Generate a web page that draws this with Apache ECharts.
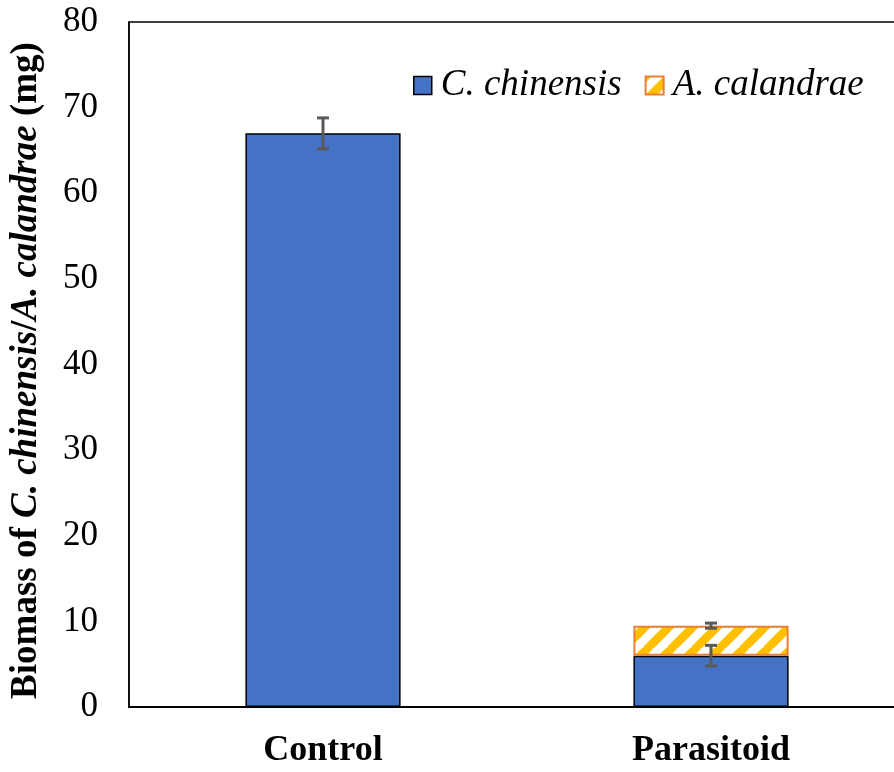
<!DOCTYPE html>
<html>
<head>
<meta charset="utf-8">
<script src="https://cdn.jsdelivr.net/npm/echarts@6/dist/echarts.min.js"></script>
<style>html,body{margin:0;padding:0;background:#fff;overflow:hidden;}#c{width:905px;height:772px;}</style>
</head>
<body>
<div id="c"></div>
<script>
const categories = ['Control', 'Parasitoid'];
const chinensis = [67, 6];
const chinensisErr = [1.8, 1.2];
const calandrae = ['-', 3.5];
const calandraeErr = [null, 0.3];
const yTicks = [0, 10, 20, 30, 40, 50, 60, 70, 80];

const FONT = "'Liberation Serif', 'Times New Roman', serif";

// hatch pattern
const tile = document.createElement('canvas');
tile.width = 24; tile.height = 24;
const tc = tile.getContext('2d');
tc.fillStyle = '#fff'; tc.fillRect(0, 0, 24, 24);
tc.strokeStyle = '#FFC000'; tc.lineWidth = 8.5;
for (const k of [-24, 0, 24]) {
  tc.beginPath(); tc.moveTo(k - 2, 26); tc.lineTo(k + 26, -2); tc.stroke();
}
const hatch = { image: tile, repeat: 'repeat' };

const errData1 = categories.map((c, i) => [i, chinensis[i], chinensisErr[i]]);
const errData2 = categories.map((c, i) => calandraeErr[i] == null ? null :
  [i, chinensis[i] + calandrae[i], calandraeErr[i]]).filter(d => d);

function renderErr(params, api) {
  const i = api.value(0), v = api.value(1), e = api.value(2);
  const hi = api.coord([i, v + e]);
  const lo = api.coord([i, v - e]);
  const x = hi[0], w = 6;
  const style = { stroke: '#595959', lineWidth: 3 };
  return {
    type: 'group',
    children: [
      { type: 'line', shape: { x1: x, y1: hi[1], x2: x, y2: lo[1] }, style },
      { type: 'line', shape: { x1: x - w, y1: hi[1], x2: x + w, y2: hi[1] }, style },
      { type: 'line', shape: { x1: x - w, y1: lo[1], x2: x + w, y2: lo[1] }, style }
    ]
  };
}

const chart = echarts.init(document.getElementById('c'));
chart.setOption({
  animation: false,
  backgroundColor: '#fff',
  grid: { left: 126, top: 22, right: 0, bottom: 65, show: true, borderColor: '#000', borderWidth: 1.5 },
  legend: {
    left: 408, top: 62,
    itemWidth: 18, itemHeight: 18, itemGap: 23,
    icon: 'rect',
    textStyle: { fontFamily: FONT, fontStyle: 'italic', fontSize: 37, color: '#000', padding: [0, 0, 0, 4] },
    data: [
      { name: 'C. chinensis', itemStyle: { color: '#4472C4', borderColor: '#000', borderWidth: 1.5 } },
      { name: 'A. calandrae', itemStyle: { color: hatch, borderColor: '#ED7D31', borderWidth: 2 } }
    ]
  },
  xAxis: {
    type: 'category',
    data: categories,
    axisTick: { show: false },
    axisLine: { lineStyle: { color: '#000', width: 2 } },
    axisLabel: { fontFamily: FONT, fontWeight: 'bold', fontSize: 36, color: '#000', margin: 26 }
  },
  yAxis: {
    type: 'value', min: yTicks[0], max: yTicks[yTicks.length - 1], interval: 10,
    splitLine: { show: false },
    axisTick: { show: false },
    axisLine: { show: true, lineStyle: { color: '#000', width: 1.5 } },
    axisLabel: { fontFamily: FONT, fontSize: 35, color: '#000', margin: 31 },
    name: '{b|Biomass of }{bi|C. chinensis}{b|/}{bi|A. calandrae}{b| (mg)}',
    nameLocation: 'middle', nameRotate: 90, nameGap: 84,
    nameTextStyle: {
      padding: [0, 12, 0, 0],
      rich: {
        b: { fontFamily: FONT, fontWeight: 'bold', fontSize: 37, color: '#000' },
        bi: { fontFamily: FONT, fontWeight: 'bold', fontStyle: 'italic', fontSize: 37, color: '#000' }
      }
    }
  },
  series: [
    {
      name: 'C. chinensis', type: 'bar', stack: 'total', data: chinensis, barWidth: '40%',
      itemStyle: { color: '#4472C4', borderColor: '#000', borderWidth: 1.5 }
    },
    {
      name: 'A. calandrae', type: 'bar', stack: 'total', data: calandrae, barWidth: '40%',
      itemStyle: { color: hatch, borderColor: '#ED7D31', borderWidth: 2 }
    },
    { type: 'custom', renderItem: renderErr, data: errData1, z: 10, silent: true },
    { type: 'custom', renderItem: renderErr, data: errData2, z: 10, silent: true }
  ]
});
</script>
</body>
</html>
